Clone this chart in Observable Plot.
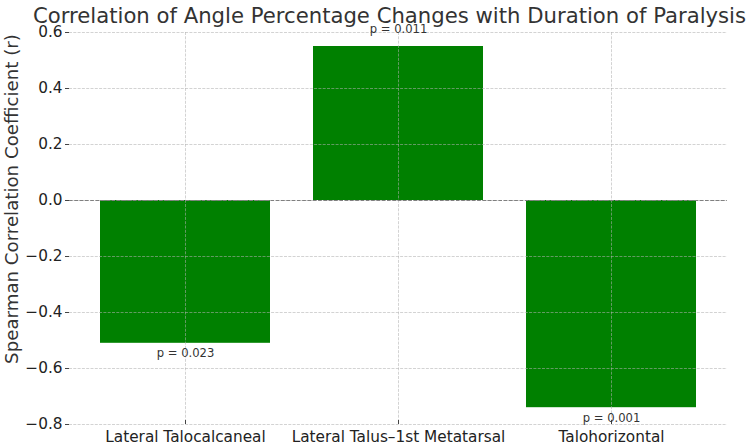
<!DOCTYPE html>
<html>
<head>
<meta charset="utf-8">
<script src="https://cdn.jsdelivr.net/npm/d3@7"></script>
<script src="https://cdn.jsdelivr.net/npm/@observablehq/plot@0.6"></script>
<style>
  html, body { margin: 0; padding: 0; background: #fff; }
  #chart { position: relative; width: 749px; height: 447px; }
  #chart svg { display: block; background: #fff; }
  #ylabel {
    position: absolute; left: 12px; top: 199px;
    transform: translate(-50%, -50%) rotate(-90deg);
    font-family: "DejaVu Sans", sans-serif; font-size: 18.2px; color: #333;
    white-space: nowrap; line-height: 1;
  }
</style>
</head>
<body>
<div id="chart"><div id="ylabel"></div></div>
<script>
// Spearman correlation of angle percentage changes vs. duration of paralysis
const angles = ["Lateral Talocalcaneal", "Lateral Talus–1st Metatarsal", "Talohorizontal"];
const rValues = [-0.51, 0.55, -0.74];
const pValues = ["0.023", "0.011", "0.001"];
const yTicks = [-0.8, -0.6, -0.4, -0.2, 0.0, 0.2, 0.4, 0.6];

const titleText = "Correlation of Angle Percentage Changes with Duration of Paralysis";
const yLabelText = "Spearman Correlation Coefficient (r)";

const rows = angles.map((angle, i) => ({angle, r: rValues[i], p: pValues[i]}));

const font = "DejaVu Sans, sans-serif";
const gridStyle = {stroke: "#b0b0b0", strokeOpacity: 0.7, strokeWidth: 0.8, strokeDasharray: "3,1.3"};
const tickLen = 4 / 280; // inward x tick length in r units (4px)

const chart = Plot.plot({
  width: 749,
  height: 447,
  marginTop: 32,
  marginBottom: 23,
  marginLeft: 69,
  marginRight: 22,
  style: {fontFamily: font, background: "#fff", overflow: "visible"},
  x: {type: "band", domain: angles, paddingInner: 0.2, paddingOuter: 0.1375, label: null},
  y: {domain: [-0.8, 0.6], label: null},
  marks: [
    Plot.barY(rows, {x: "angle", y: "r", fill: "#008000"}),
    Plot.gridY(yTicks, gridStyle),
    Plot.gridX(angles, gridStyle),
    Plot.ruleY([0], {stroke: "#808080", strokeWidth: 1, strokeDasharray: "3.7,1.6"}),
    Plot.axisY({
      ticks: yTicks, tickFormat: d3.format(".1f"), tickSize: 4, tickPadding: 3,
      fontSize: 15.3, color: "#222", stroke: "#444", line: true, label: null
    }),
    Plot.axisX({
      tickSize: 0, tickPadding: 7, fontSize: 15.3, color: "#222",
      stroke: "#444", line: true, label: null
    }),
    Plot.ruleX(angles, {x: d => d, y1: -0.8, y2: -0.8 + tickLen, stroke: "#444"}),
    // p-value labels just beyond each bar's end
    Plot.text(rows, {
      x: "angle",
      y: d => d.r + (d.r > 0 ? 0.05 : -0.05),
      text: d => `p = ${d.p}`,
      lineAnchor: "bottom",
      fontSize: 11.6,
      fill: "#333"
    }),
    Plot.text([titleText], {
      frameAnchor: "top", lineAnchor: "bottom", dy: -10, dx: -9,
      fontSize: 21.2, fill: "#333"
    })
  ]
});

document.getElementById("chart").appendChild(chart);
document.getElementById("ylabel").textContent = yLabelText;
</script>
</body>
</html>
